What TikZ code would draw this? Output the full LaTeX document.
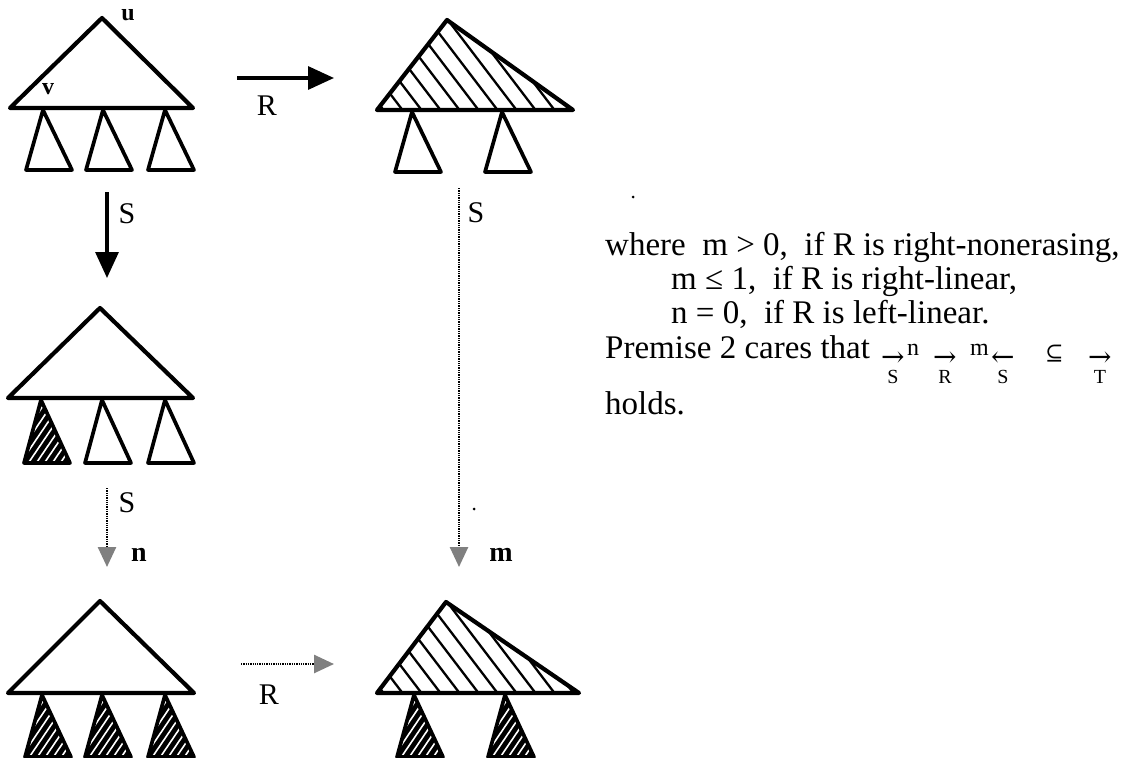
\documentclass[tikz,border=0pt]{standalone}
\usepackage{fontspec}
\setmainfont{Liberation Serif}
\newfontfamily\symfont{DejaVu Serif}
\usetikzlibrary{arrows.meta,calc}
\newcommand{\plainsub}[3]{\draw[sub] (#1,#2) -- (#1-17,#3) -- (#1+29,#3) -- cycle;}
\newcommand{\hatchsub}[3]{%
  \begin{scope}
    \clip (#1,#2) -- (#1-17,#3) -- (#1+29,#3) -- cycle;
    \fill (#1-40,#2-5) rectangle (#1+40,#3+5);
    \foreach \k in {-6,...,9} \draw[whatch] (#1-30+\k*8,#3+2) -- ++(42,-62);
  \end{scope}
  \draw[sub] (#1,#2) -- (#1-17,#3) -- (#1+29,#3) -- cycle;}
\begin{document}
\begin{tikzpicture}[x=1pt,y=-1pt,
  tri/.style={line width=4.2pt, line join=round},
  sub/.style={line width=3.7pt, line join=round},
  whatch/.style={line width=1.6pt, white},
  solidarr/.style={line width=3.2pt, -{Triangle[length=26pt,width=23pt]}},
  dotarr/.style={line width=2.6pt, dash pattern=on 1.3pt off 1pt, black,
     -{Triangle[length=20pt,width=18pt,fill=black!50,color=black!50]}},
  lbl/.style={font=\fontsize{30}{30}\selectfont, inner sep=0pt},
  blbl/.style={font=\bfseries\fontsize{28}{28}\selectfont, inner sep=0pt},
  small/.style={font=\bfseries\fontsize{24}{24}\selectfont, inner sep=0pt},
  txt/.style={font=\fontsize{33}{33}\selectfont, inner sep=0pt, anchor=base west},
  arr/.style={font=\symfont\fontsize{28}{28}\selectfont, inner sep=0pt, anchor=base west},
  sup/.style={font=\fontsize{24}{24}\selectfont, inner sep=0pt, anchor=base west},
  subl/.style={font=\fontsize{20}{20}\selectfont, inner sep=0pt, anchor=base},
  hatch/.style={line width=2.3pt},
  speck/.style={fill=black, inner sep=0pt, minimum size=3pt, circle}
]
\useasboundingbox (0,0) rectangle (1126,757);

% ---------- Tree 1 (top left)
\draw[tri] (10,108) -- (102,18) -- (193,108) -- cycle;
\plainsub{43}{110}{170}
\plainsub{103}{110}{170}
\plainsub{165}{110}{170}
\node[small] (u) at (128,15) {u};
\node[small] (v) at (48,89) {v};

% ---------- Tree 2 (top middle)
\begin{scope}
  \clip (377,110) -- (447,20) -- (573,110) -- cycle;
  \foreach \k in {0,...,14} \draw[hatch] (385+\k*19,112) -- ++(-80,-105);
\end{scope}
\draw[tri] (377,110) -- (447,20) -- (573,110) -- cycle;
\plainsub{412}{112}{172}
\plainsub{502}{112}{172}

% ---------- Tree 3 (middle left)
\draw[tri] (8,398) -- (100,308) -- (193,398) -- cycle;
\hatchsub{41}{400}{463}
\plainsub{102}{400}{463}
\plainsub{165}{400}{463}

% ---------- Tree 4 (bottom left)
\draw[tri] (8,693) -- (100,601) -- (194,693) -- cycle;
\hatchsub{42}{695}{757}
\hatchsub{102}{695}{757}
\hatchsub{165}{695}{757}

% ---------- Tree 5 (bottom middle)
\begin{scope}
  \clip (377,693) -- (446,602) -- (579,693) -- cycle;
  \foreach \k in {0,...,14} \draw[hatch] (385+\k*19,695) -- ++(-80,-105);
\end{scope}
\draw[tri] (377,693) -- (446,602) -- (579,693) -- cycle;
\hatchsub{414}{695}{757}
\hatchsub{505}{695}{757}

% ---------- arrows
\coordinate (r1a) at (237,78);
\coordinate (r1b) at (334,78);
\draw[solidarr] (r1a) -- (r1b);
\node[lbl] (R1) at (267,106) {R};

\coordinate (s1a) at (107,192);
\coordinate (s1b) at (107,278);
\draw[solidarr] (s1a) -- (s1b);
\node[lbl] (S1) at (127,214) {S};

\coordinate (s2a) at (459,188);
\coordinate (s2b) at (459,567);
\draw[dotarr] (s2a) -- (s2b);
\node[lbl] (S2) at (476,213) {S};
\node[blbl] (m) at (501,555) {m};

\coordinate (s3a) at (107,488);
\coordinate (s3b) at (107,567);
\draw[dotarr] (s3a) -- (s3b);
\node[lbl] (S3) at (127,503) {S};
\node[blbl] (n) at (139,555) {n};

\coordinate (r2a) at (241,664);
\coordinate (r2b) at (334,664);
\draw[dotarr] (r2a) -- (r2b);
\node[lbl] (R2) at (269,695) {R};

% scan specks
\node[speck] (d1) at (245,78) {};
\node[speck] (d2) at (633,197) {};
\node[speck] (d3) at (474,509) {};

% ---------- text
\node[txt] (l1) at (605,255) {where\ \ m > 0,\ \ if R is right-nonerasing,};
\node[txt] (l2) at (671,289) {m ≤ 1,\ \ if R is right-linear,};
\node[txt] (l3) at (671,323) {n = 0,\ \ if R is left-linear.};
\node[txt] (l4) at (605,358) {Premise 2 cares that};
\node[arr] (a1) at (881,366) {→};
\node[subl] (a1s) at (893,383) {S};
\node[sup] (sn) at (907,355) {n};
\node[arr] (a2) at (933,366) {→};
\node[subl] (a2s) at (945,383) {R};
\node[sup] (sm) at (970,355) {m};
\node[arr] (a3) at (991,366) {←};
\node[subl] (a3s) at (1003,383) {S};
\node[sup, font=\symfont\fontsize{22}{22}\selectfont] (sub) at (1045,360) {⊆};
\node[arr] (a4) at (1088,366) {→};
\node[subl] (a4s) at (1100,383) {T};
\node[txt] (l5) at (605,414) {holds.};
\end{tikzpicture}
\end{document}
